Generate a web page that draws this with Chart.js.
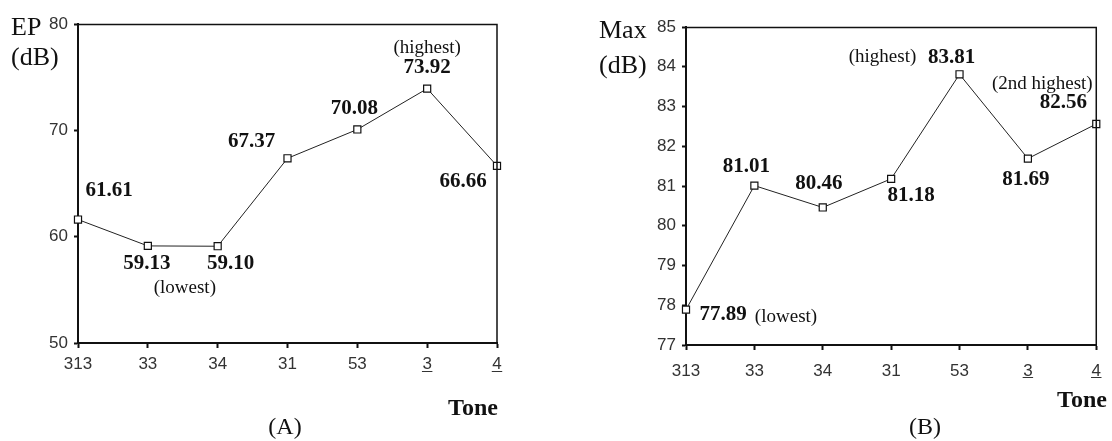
<!DOCTYPE html>
<html><head><meta charset="utf-8">
<script src="https://cdn.jsdelivr.net/npm/chart.js@4.4.1/dist/chart.umd.min.js"></script>
<style>
html,body{margin:0;padding:0;background:#fff;}
body{width:1112px;height:441px;position:relative;overflow:hidden;}
canvas{position:absolute;top:0;}
</style></head><body>
<canvas id="chartA" width="556" height="441" style="left:0"></canvas>
<canvas id="chartB" width="556" height="441" style="left:556px"></canvas>
<script>
// ---- data ----
const categories = ['313', '33', '34', '31', '53', '3', '4'];
const underlinedTicks = ['3', '4'];
const epValues = [61.61, 59.13, 59.10, 67.37, 70.08, 73.92, 66.66];
const maxValues = [77.89, 81.01, 80.46, 81.18, 83.81, 81.69, 82.56];
const epTickRange = { min: 50, max: 80, step: 10 };
const maxTickRange = { min: 77, max: 85, step: 1 };
const epAxisTitle = ['EP', '(dB)'];
const maxAxisTitle = ['Max', '(dB)'];
const xAxisTitle = 'Tone';
const panelLabels = ['(A)', '(B)'];
const epNotes = [{ index: 1, text: '(lowest)' }, { index: 5, text: '(highest)' }];
const maxNotes = [{ index: 0, text: '(lowest)' }, { index: 4, text: '(highest)' }, { index: 6, text: '(2nd highest)' }];

const SERIF = '"Liberation Serif", "Times New Roman", serif';
const SANS = '"Liberation Sans", Arial, sans-serif';

const annotatePlugin = {
  id: 'annotate',
  afterDraw(chart, args, o) {
    const ctx = chart.ctx;
    const a = chart.chartArea;
    const xs = chart.scales.x, ys = chart.scales.y;
    const data = chart.data.datasets[0].data;
    ctx.save();
    // frame top & right
    ctx.strokeStyle = '#111';
    ctx.lineWidth = 1.5;
    ctx.beginPath();
    ctx.moveTo(a.left, a.top + 0.5);
    ctx.lineTo(a.right, a.top + 0.5);
    ctx.lineTo(a.right, a.bottom);
    ctx.stroke();
    // value labels
    ctx.fillStyle = '#111';
    ctx.textAlign = 'center';
    ctx.textBaseline = 'middle';
    ctx.font = 'bold 21px ' + SERIF;
    data.forEach((v, i) => {
      const px = xs.getPixelForValue(i), py = ys.getPixelForValue(v);
      const off = o.valueOffsets[i];
      ctx.fillText(v.toFixed(2), px + off[0], py + off[1]);
    });
    // notes
    ctx.font = '19px ' + SERIF;
    o.notes.forEach((n, k) => {
      const px = xs.getPixelForValue(n.index), py = ys.getPixelForValue(data[n.index]);
      const off = o.noteOffsets[k];
      ctx.fillText(n.text, px + off[0], py + off[1]);
    });
    // axis titles
    ctx.textAlign = 'left';
    ctx.textBaseline = 'alphabetic';
    ctx.font = '26px ' + SERIF;
    ctx.fillText(o.yTitle[0], o.yTitlePos[0], o.yTitlePos[1]);
    ctx.fillText(o.yTitle[1], o.yTitlePos[2], o.yTitlePos[3]);
    ctx.textAlign = 'center';
    ctx.font = 'bold 24px ' + SERIF;
    ctx.fillText(xAxisTitle, o.tonePos[0], o.tonePos[1]);
    ctx.font = '24px ' + SERIF;
    ctx.fillText(o.panel, o.panelPos[0], o.panelPos[1]);
    // underline ticks
    ctx.font = '17px ' + SANS;
    ctx.lineWidth = 1;
    ctx.strokeStyle = '#333';
    categories.forEach((c, i) => {
      if (underlinedTicks.includes(c)) {
        const px = xs.getPixelForTick(i);
        const w = ctx.measureText(c).width;
        const y = a.bottom + o.underlineY;
        ctx.beginPath();
        ctx.moveTo(px - w / 2 - 0.5, y + 0.5);
        ctx.lineTo(px + w / 2 + 0.5, y + 0.5);
        ctx.stroke();
      }
    });
    ctx.restore();
  }
};

function makeChart(id, values, range, cfg) {
  return new Chart(document.getElementById(id), {
    type: 'line',
    data: {
      labels: categories,
      datasets: [{
        data: values,
        borderColor: '#222',
        borderWidth: 1,
        pointStyle: 'rect',
        pointRadius: 5,
        pointBorderWidth: 1.2,
        pointBackgroundColor: '#fff',
        pointBorderColor: '#111',
        tension: 0
      }]
    },
    options: {
      responsive: false,
      animation: false,
      devicePixelRatio: 1,
      layout: { padding: cfg.padding },
      plugins: { legend: { display: false }, tooltip: { enabled: false }, annotate: cfg.annot },
      scales: {
        x: {
          type: 'category',
          offset: false,
          afterFit: s => { s.height = cfg.xHeight; },
          grid: { display: true, drawOnChartArea: false, drawTicks: true, tickLength: 5, tickColor: '#111', tickWidth: 2 },
          border: { display: true, color: '#111', width: 2 },
          ticks: { color: '#333', font: { family: SANS, size: 17 }, padding: cfg.xPad, maxRotation: 0, autoSkip: false }
        },
        y: {
          min: range.min, max: range.max,
          afterFit: s => { s.width = cfg.yWidth; },
          grid: { display: true, drawOnChartArea: false, drawTicks: true, tickLength: 4, tickColor: '#111', tickWidth: 2 },
          border: { display: true, color: '#111', width: 2 },
          ticks: { stepSize: range.step, color: '#333', font: { family: SANS, size: 17 }, padding: 6 }
        }
      }
    },
    plugins: [annotatePlugin]
  });
}

makeChart('chartA', epValues, epTickRange, {
  padding: { left: 0, top: 24, right: 59, bottom: 0 },
  yWidth: 78, xHeight: 98, xPad: 6,
  annot: {
    valueOffsets: [[31, -29], [-1, 18], [13, 17], [-36, -17], [-3, -21], [0, -21], [-34, 16]],
    notes: epNotes, noteOffsets: [[37, 42], [0, -41]],
    yTitle: epAxisTitle, yTitlePos: [11, 35, 11, 65],
    tonePos: [473, 415], panel: panelLabels[0], panelPos: [285, 434], underlineY: 28
  }
});

makeChart('chartB', maxValues, maxTickRange, {
  padding: { left: 0, top: 27, right: 14, bottom: 0 },
  yWidth: 130, xHeight: 96, xPad: 11,
  annot: {
    valueOffsets: [[37, 5], [-8, -19], [-4, -24], [20, 17], [-8, -17], [-2, 21], [-33, -21]],
    notes: maxNotes, noteOffsets: [[100, 7], [-77, -17], [-54, -40]],
    yTitle: maxAxisTitle, yTitlePos: [43, 38, 43, 73],
    tonePos: [526, 407], panel: panelLabels[1], panelPos: [369, 434], underlineY: 32
  }
});
</script>
</body></html>
